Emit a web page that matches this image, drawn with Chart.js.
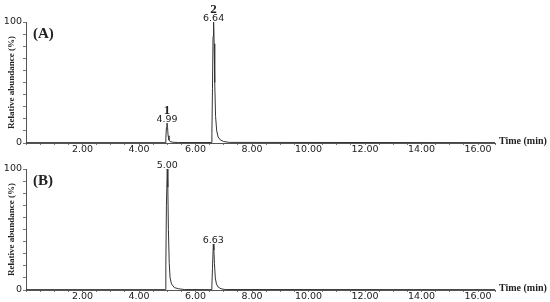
<!DOCTYPE html>
<html>
<head>
<meta charset="utf-8">
<script src="https://cdn.jsdelivr.net/npm/chart.js@4"></script>
<style>
  body { margin: 0; background: #fff; }
  #wrap { position: relative; width: 550px; height: 302px; }
  canvas { position: absolute; left: 0; }
</style>
</head>
<body>
<div id="wrap">
  <canvas id="chartA" width="550" height="158" style="top:0"></canvas>
  <canvas id="chartB" width="550" height="154" style="top:148px"></canvas>
</div>
<script>
// chromatogram (A)
const timeA = [0, 4.92, 4.95, 4.97, 4.99, 5.01, 5.03, 5.06, 5.10, 5.20, 5.40, 6.55, 6.58, 6.60, 6.62, 6.64, 6.66, 6.68, 6.71, 6.75, 6.80, 6.88, 7.00, 7.20, 16.6];
const abundA = [0.3, 0.3, 4, 13, 16.5, 13, 6, 2.5, 1.2, 0.6, 0.4, 0.4, 8, 45, 88, 100, 82, 50, 22, 10, 5, 2.5, 1.2, 0.5, 0.3];
const peakTimesA = [4.99, 6.64];
const peakHeightsA = [16.5, 100];
const peakNumbersA = ['1', '2'];

// chromatogram (B)
const timeB = [0, 4.93, 4.95, 4.97, 5.00, 5.02, 5.04, 5.07, 5.10, 5.15, 5.25, 5.40, 5.60, 6.55, 6.58, 6.60, 6.63, 6.65, 6.67, 6.70, 6.74, 6.80, 6.90, 7.05, 16.6];
const abundB = [0.3, 0.3, 20, 70, 100, 85, 50, 22, 10, 5, 2, 1, 0.4, 0.3, 4, 18, 38, 33, 22, 10, 5, 2.5, 1, 0.4, 0.3];
const peakTimesB = [5.00, 6.63];
const peakHeightsB = [100, 38];
const peakNumbersB = ['', ''];

const xTickLabels = [2, 4, 6, 8, 10, 12, 14, 16];
const yTickLabels = [0, 100];

const tickFont = { family: '"DejaVu Sans"', size: 9.5 };
const ink = '#222';

// peak labels, panel letter and x axis title
const annotations = {
  id: 'annotations',
  afterDatasetsDraw(chart, args, opts) {
    const { ctx, scales: { x, y } } = chart;
    ctx.save();
    ctx.fillStyle = ink;
    ctx.textAlign = 'center';
    ctx.textBaseline = 'alphabetic';
    opts.times.forEach((t, i) => {
      const px = x.getPixelForValue(t);
      const py = y.getPixelForValue(opts.heights[i]);
      ctx.font = '9.5px "DejaVu Sans"';
      ctx.fillText(t.toFixed(2), px, py - 1.5);
      if (opts.numbers[i]) {
        ctx.font = 'bold 13px "Liberation Serif"';
        ctx.fillText(opts.numbers[i], px, py - 9.5);
      }
    });
    ctx.textAlign = 'left';
    ctx.font = 'bold 15px "Liberation Serif"';
    ctx.fillText(opts.panel, x.left + 7, y.top + 16);
    ctx.font = 'bold 10px "Liberation Serif"';
    ctx.textBaseline = 'middle';
    ctx.fillText('Time (min)', x.right + 4, y.bottom - 2);
    ctx.restore();
  }
};

function makeChart(id, times, values, peaks, panel, top, height) {
  const data = times.map((t, i) => ({ x: t, y: values[i] }));
  return new Chart(document.getElementById(id), {
    type: 'line',
    data: {
      datasets: [{
        data: data,
        borderColor: '#333',
        borderWidth: 1,
        pointRadius: 0,
        tension: 0
      }]
    },
    options: {
      responsive: false,
      animation: false,
      layout: { padding: { left: 0, right: 55, top: top, bottom: 0 } },
      plugins: {
        legend: { display: false },
        tooltip: { enabled: false },
        annotations: Object.assign({ panel: panel }, peaks)
      },
      scales: {
        x: {
          type: 'linear',
          min: 0,
          max: 16.6,
          afterFit: (s) => { s.height = height; },
          border: { color: '#555', width: 1 },
          grid: { drawOnChartArea: false, drawTicks: true, tickLength: 2, color: '#777' },
          ticks: {
            stepSize: 0.5,
            autoSkip: false,
            maxRotation: 0,
            padding: -1,
            color: ink,
            font: tickFont,
            callback: (v) => xTickLabels.includes(v) ? v.toFixed(2) : ''
          }
        },
        y: {
          min: 0,
          max: 100,
          afterFit: (s) => { s.width = 26; },
          border: { color: '#555', width: 1 },
          grid: { drawOnChartArea: false, drawTicks: true, tickLength: 3, color: '#777' },
          title: {
            display: true,
            text: 'Relative abundance (%)',
            color: ink,
            font: { family: '"Liberation Serif"', size: 9, weight: 'bold' },
            padding: { top: 6, bottom: 0 }
          },
          ticks: {
            stepSize: 10,
            autoSkip: false,
            padding: 1,
            color: ink,
            font: tickFont,
            callback: (v) => yTickLabels.includes(v) ? String(v) : ''
          }
        }
      }
    },
    plugins: [annotations]
  });
}

makeChart('chartA', timeA, abundA,
  { times: peakTimesA, heights: peakHeightsA, numbers: peakNumbersA }, '(A)', 22, 15);
makeChart('chartB', timeB, abundB,
  { times: peakTimesB, heights: peakHeightsB, numbers: peakNumbersB }, '(B)', 21, 12);
</script>
</body>
</html>
